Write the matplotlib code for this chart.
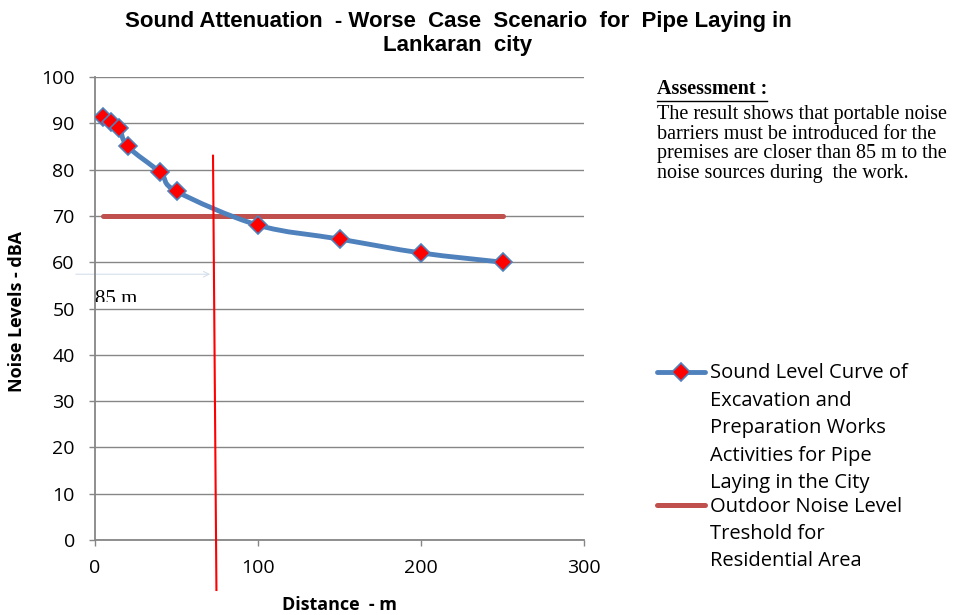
"""Noise attenuation curve for pipe laying works, with the residential threshold."""

import matplotlib.pyplot as plt
import numpy as np
from matplotlib.lines import Line2D
from matplotlib.patches import PathPatch, Rectangle
from matplotlib.path import Path

# Sound level curve (distance in m, level in dBA)
distance = [5, 10, 15, 20, 40, 50, 100, 150, 200, 250]
noise_level = [91.3, 90.2, 89.0, 85.0, 79.4, 75.3, 68.0, 65.0, 62.0, 60.0]

# Outdoor threshold for residential area
threshold_x = [5, 250]
threshold_level = [70, 70]

# Hand-drawn cut-off marker at ~85 m
cutoff_x = [72.4, 74.5]
cutoff_y = [83.0, -10.8]
cutoff_arrow_y = 57.4
cutoff_arrow_x = [-13.5, 72.4]

x_ticks = [0, 100, 200, 300]
y_ticks = list(range(0, 101, 10))

title_lines = ["Sound Attenuation  - Worse  Case  Scenario  for  Pipe Laying in",
               "Lankaran  city"]
curve_label = ["Sound Level Curve of", "Excavation and", "Preparation Works",
               "Activities for Pipe", "Laying in the City"]
threshold_label = ["Outdoor Noise Level", "Treshold for", "Residential Area"]
assessment_body = ["The result shows that portable noise",
                   "barriers must be introduced for the",
                   "premises are closer than 85 m to the",
                   "noise sources during  the work."]

BLUE = "#4F81BD"
DARK_RED = "#C0504D"
GRID = "#868686"
SANS = ["Open Sans", "DejaVu Sans"]
SERIF = ["Liberation Serif", "DejaVu Serif"]

W, H = 966, 615


def smooth_path(xs, ys):
    """Cubic Bezier path through the points (Catmull-Rom style smoothing)."""
    pts = np.column_stack([xs, ys]).astype(float)
    verts = [pts[0]]
    codes = [Path.MOVETO]
    n = len(pts)
    for i in range(n - 1):
        p0 = pts[max(i - 1, 0)]
        p1 = pts[i]
        p2 = pts[i + 1]
        p3 = pts[min(i + 2, n - 1)]
        c1 = p1 + (p2 - p0) / 6.0
        c2 = p2 - (p3 - p1) / 6.0
        verts += [c1, c2, p2]
        codes += [Path.CURVE4] * 3
    return Path(verts, codes)


fig = plt.figure(figsize=(W / 100, H / 100), dpi=100)
ax = fig.add_axes([95 / W, 1 - 540 / H, 489 / W, 463 / H])

ax.set_xlim(0, 300)
ax.set_ylim(0, 100)
ax.set_xticks(x_ticks)
ax.set_yticks(y_ticks)
ax.yaxis.grid(True, color=GRID, lw=1.0)
ax.set_axisbelow(True)
for side in ("top", "right"):
    ax.spines[side].set_visible(False)
for side in ("left", "bottom"):
    ax.spines[side].set_color(GRID)
    ax.spines[side].set_linewidth(1.3)
ax.tick_params(colors=GRID, length=4.5, width=1.0, labelcolor="black", labelsize=14)
for lbl in ax.get_xticklabels() + ax.get_yticklabels():
    lbl.set_family(SANS)
ax.tick_params(axis="x", pad=9)
ax.tick_params(axis="y", pad=10)

# threshold line
ax.plot(threshold_x, threshold_level, color=DARK_RED, lw=3.6, solid_capstyle="round",
        zorder=3)

# smoothed curve and markers
ax.add_patch(PathPatch(smooth_path(distance, noise_level), fill=False, edgecolor=BLUE,
                       lw=3.5, capstyle="round", zorder=4))
ax.plot(distance, noise_level, ls="none", marker="D", ms=9, mfc="red",
        mec=BLUE, mew=1.2, zorder=5)

# 85 m cut-off marker
ax.plot(cutoff_x, cutoff_y, color="red", lw=1.5, clip_on=False, zorder=6)
ax.annotate("", xy=(cutoff_arrow_x[1], cutoff_arrow_y),
            xytext=(cutoff_arrow_x[0], cutoff_arrow_y),
            arrowprops=dict(arrowstyle="->", color="#d5dfea", lw=0.8),
            annotation_clip=False, zorder=2)
lbl85 = ax.text(0, 51.0, "85 m", family=SERIF, fontsize=15, va="baseline", ha="left",
                zorder=6, clip_on=True)
lbl85.set_clip_path(Rectangle((0, 51.5), 60, 10, transform=ax.transData))

# axis titles
fig.text(17.5 / W, 1 - 312 / H, "Noise Levels - dBA", family=SANS, fontsize=13,
         fontweight="bold", rotation=90, ha="center", va="center")
fig.text(339 / W, 1 - 605 / H, "Distance  - m", family=SANS, fontsize=13,
         fontweight="bold", ha="center", va="center")

# title
title_font = ["Liberation Sans", "DejaVu Sans"]
fig.text(458 / W, 1 - 21 / H, title_lines[0], family=title_font, fontsize=16,
         fontweight="bold", ha="center", va="center")
fig.text(458 / W, 1 - 45 / H, title_lines[1], family=title_font, fontsize=16,
         fontweight="bold", ha="center", va="center")

# assessment note
head = fig.text(657 / W, 1 - 89 / H, "Assessment :", family=SERIF, fontsize=14.5,
                fontweight="bold", ha="left", va="center")
for i, line in enumerate(assessment_body):
    fig.text(657 / W, 1 - (115 + 19.4 * i) / H, line, family=SERIF, fontsize=14.5,
             ha="left", va="center")
fig.canvas.draw()
bb = head.get_window_extent()
fig.add_artist(Line2D([bb.x0 / W, bb.x1 / W], [1 - 100.5 / H] * 2, color="black",
                      lw=1.0))

# legend
fig.add_artist(Line2D([657 / W, 705 / W], [1 - 372 / H] * 2, color=BLUE, lw=3.5,
                      solid_capstyle="round"))
fig.add_artist(Line2D([681 / W], [1 - 372 / H], ls="none", marker="D", ms=9,
                      mfc="red", mec=BLUE, mew=1.2))
fig.add_artist(Line2D([657 / W, 705 / W], [1 - 505 / H] * 2, color=DARK_RED, lw=3.6,
                      solid_capstyle="round"))
for i, line in enumerate(curve_label):
    fig.text(710 / W, 1 - (373 + 27.5 * i) / H, line, family=SANS, fontsize=14.5,
             ha="left", va="center")
for i, line in enumerate(threshold_label):
    fig.text(710 / W, 1 - (507 + 27 * i) / H, line, family=SANS, fontsize=14.5,
             ha="left", va="center")

fig.savefig("out.png", dpi=100)
